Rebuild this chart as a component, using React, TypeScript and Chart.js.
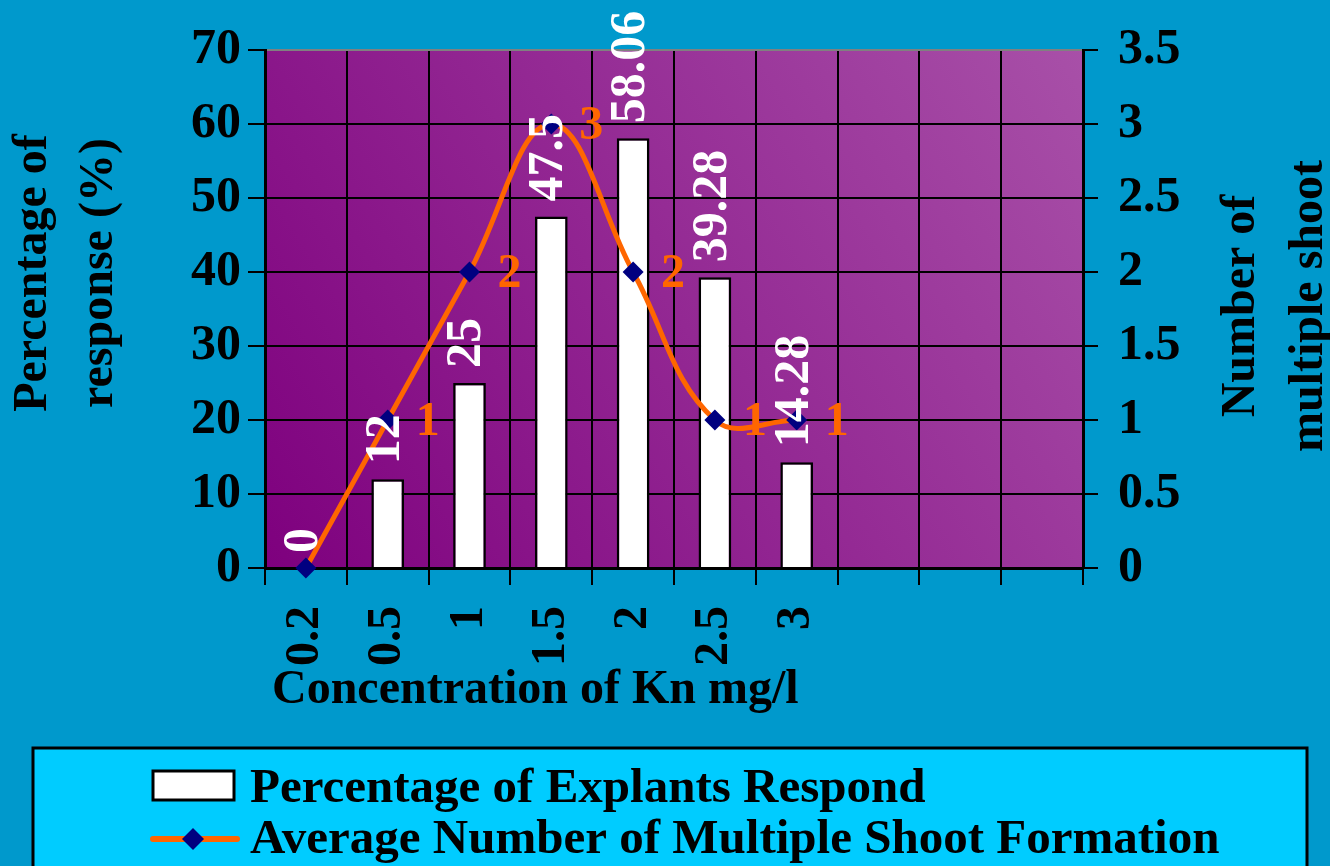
import React, { useEffect, useRef } from "react";
import { Chart, registerables } from "chart.js";

Chart.register(...registerables);

// Kinetin concentrations (mg/l); the last three slots are empty on the axis
const concentrations = ["0.2", "0.5", "1", "1.5", "2", "2.5", "3", "", "", ""];
// Percentage of explants responding
const explantsResponse = [0, 12, 25, 47.5, 58.06, 39.28, 14.28];
// Average number of multiple shoots formed
const shootNumber = [0, 1, 2, 3, 2, 1, 1];

const leftTicks = { min: 0, max: 70, step: 10 };
const rightTicks = { min: 0, max: 3.5, step: 0.5 };

const FAMILY = '"Liberation Serif", "Times New Roman", serif';
const TICK_FONT = { family: FAMILY, size: 50, weight: "bold" as const };
const PAGE_BG = "#0099CC";
const LEGEND_BG = "#00CCFF";
const LINE_COLOR = "#FF6600";
const MARKER_COLOR = "#000080";

const decorPlugin = {
  id: "decor",
  beforeDraw(chart: any) {
    const { ctx, chartArea: a, width, height } = chart;
    ctx.save();
    ctx.fillStyle = PAGE_BG;
    ctx.fillRect(0, 0, width, height);
    const g = ctx.createLinearGradient(a.left, a.bottom, a.right, a.top);
    g.addColorStop(0, "rgb(126,0,126)");
    g.addColorStop(1, "rgb(168,80,168)");
    ctx.fillStyle = g;
    ctx.fillRect(a.left, a.top, a.right - a.left, a.bottom - a.top);
    ctx.restore();
  },
  afterDatasetsDraw(chart: any) {
    const { ctx } = chart;
    ctx.save();

    // value labels of the bars, written upwards above each bar
    ctx.font = `bold 50px ${FAMILY}`;
    const bars = chart.getDatasetMeta(0).data;
    ctx.fillStyle = "#FFFFFF";
    ctx.textAlign = "left";
    ctx.textBaseline = "middle";
    bars.forEach((el: any, i: number) => {
      ctx.save();
      ctx.translate(el.x - 2, el.y - 15);
      ctx.rotate(-Math.PI / 2);
      ctx.fillText(String(explantsResponse[i]), 0, 0);
      ctx.restore();
    });

    // value labels of the line, to the right of each marker
    ctx.font = `bold 48px ${FAMILY}`;
    const pts = chart.getDatasetMeta(1).data;
    ctx.fillStyle = LINE_COLOR;
    ctx.textAlign = "center";
    pts.forEach((el: any, i: number) => {
      if (shootNumber[i] === 0) return;
      ctx.fillText(String(shootNumber[i]), el.x + 40, el.y + 3);
    });
    ctx.restore();
  },
  afterDraw(chart: any) {
    const { ctx } = chart;
    ctx.save();
    ctx.fillStyle = "#000000";
    ctx.font = `bold 48px ${FAMILY}`;
    ctx.textBaseline = "alphabetic";

    // x axis title
    ctx.textAlign = "left";
    ctx.fillText("Concentration of Kn mg/l", 272, 703);

    // axis titles on both sides (two lines, rotated)
    ctx.textAlign = "center";
    const vText = (text: string, x: number, y: number) => {
      ctx.save();
      ctx.translate(x, y);
      ctx.rotate(-Math.PI / 2);
      ctx.fillText(text, 0, 0);
      ctx.restore();
    };
    vText("Percentage of", 46, 273);
    vText("response (%)", 112, 273);
    vText("Number of", 1254, 306);
    vText("multiple shoot", 1322, 306);

    // legend box
    ctx.fillStyle = LEGEND_BG;
    ctx.fillRect(33, 748, 1274, 140);
    ctx.lineWidth = 3;
    ctx.strokeStyle = "#000000";
    ctx.strokeRect(33, 748, 1274, 140);

    // legend entry: bars
    ctx.fillStyle = "#FFFFFF";
    ctx.fillRect(153, 771, 81, 29);
    ctx.lineWidth = 3;
    ctx.strokeRect(153, 771, 81, 29);

    // legend entry: line with diamond marker
    ctx.strokeStyle = LINE_COLOR;
    ctx.lineWidth = 6;
    ctx.lineCap = "round";
    ctx.beginPath();
    ctx.moveTo(153, 839);
    ctx.lineTo(237, 839);
    ctx.stroke();
    ctx.fillStyle = MARKER_COLOR;
    ctx.beginPath();
    ctx.moveTo(193 - 11, 839);
    ctx.lineTo(193, 839 - 11);
    ctx.lineTo(193 + 11, 839);
    ctx.lineTo(193, 839 + 11);
    ctx.closePath();
    ctx.fill();

    ctx.fillStyle = "#000000";
    ctx.textAlign = "left";
    ctx.font = `bold 49px ${FAMILY}`;
    ctx.fillText("Percentage of Explants Respond", 250, 802);
    ctx.fillText("Average Number of Multiple Shoot Formation", 250, 853);
    ctx.restore();
  },
};

export default function App() {
  const ref = useRef<HTMLCanvasElement>(null);

  useEffect(() => {
    if (!ref.current) return;
    const chart = new Chart(ref.current, {
      type: "bar",
      data: {
        labels: concentrations,
        datasets: [
          {
            type: "bar",
            label: "Percentage of Explants Respond",
            data: explantsResponse,
            yAxisID: "y",
            backgroundColor: "#FFFFFF",
            borderColor: "#000000",
            borderWidth: 2.5,
            categoryPercentage: 1,
            barPercentage: 0.4,
            order: 2,
          },
          {
            type: "line",
            label: "Average Number of Multiple Shoot Formation",
            data: shootNumber,
            yAxisID: "y1",
            borderColor: LINE_COLOR,
            borderWidth: 5,
            tension: 0.4,
            pointStyle: "rectRot",
            pointRadius: 10.5,
            pointBackgroundColor: MARKER_COLOR,
            pointBorderWidth: 0,
            clip: false as any,
            order: 1,
          },
        ],
      },
      options: {
        responsive: false,
        devicePixelRatio: 1,
        animation: false,
        layout: { padding: { top: 48, left: 0, right: 0, bottom: 0 } },
        plugins: {
          legend: { display: false },
          tooltip: { enabled: false },
          title: { display: false },
        },
        scales: {
          x: {
            offset: true,
            afterFit: (s: any) => {
              s.height = 298;
            },
            grid: {
              offset: true,
              color: "#000000",
              lineWidth: 2,
              tickLength: 17,
            },
            border: { color: "#000000", width: 3 },
            ticks: {
              autoSkip: false,
              minRotation: 90,
              maxRotation: 90,
              padding: 21,
              color: "#000000",
              font: { family: FAMILY, size: 48, weight: "bold" },
            },
          },
          y: {
            position: "left",
            min: leftTicks.min,
            max: leftTicks.max,
            afterFit: (s: any) => {
              s.width = 265;
            },
            grid: {
              color: (c: any) => (c.tick && c.tick.value === leftTicks.max ? "#808080" : "#000000"),
              tickColor: "#000000",
              lineWidth: 2,
              tickLength: 17,
            },
            border: { color: "#000000", width: 3 },
            ticks: {
              stepSize: leftTicks.step,
              padding: 7,
              color: "#000000",
              font: TICK_FONT,
            },
          },
          y1: {
            position: "right",
            min: rightTicks.min,
            max: rightTicks.max,
            afterFit: (s: any) => {
              s.width = 247;
            },
            grid: {
              drawOnChartArea: false,
              color: "#000000",
              lineWidth: 2,
              tickLength: 15,
            },
            border: { color: "#000000", width: 3 },
            ticks: {
              stepSize: rightTicks.step,
              padding: 20,
              color: "#000000",
              font: TICK_FONT,
              callback: (v: any) => String(Number(v)),
            },
          },
        },
      },
      plugins: [decorPlugin],
    } as any);
    return () => chart.destroy();
  }, []);

  return (
    <div style={{ position: "absolute", left: 0, top: 0, width: 1330, height: 866 }}>
      <canvas ref={ref} width={1330} height={866} style={{ display: "block" }} />
    </div>
  );
}
